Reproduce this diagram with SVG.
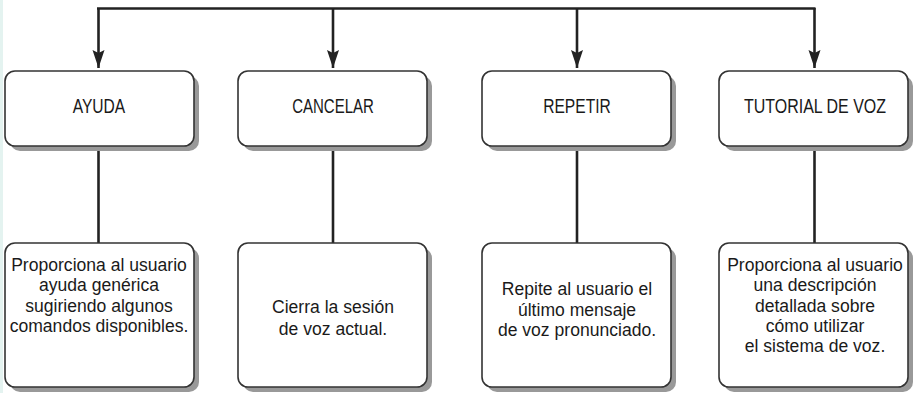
<svg xmlns="http://www.w3.org/2000/svg" width="917" height="393" viewBox="0 0 917 393">
<style>
.box{fill:#fff;stroke:#333;stroke-width:1.6}
.sh{fill:#999;stroke:none}
.lbl{font-family:"Liberation Sans",Arial,sans-serif;font-size:19.5px;fill:#1a1a1a;text-anchor:middle}
.txt{font-family:"Liberation Sans",Arial,sans-serif;font-size:18.5px;fill:#1a1a1a;text-anchor:middle}
.ln{stroke:#222;stroke-width:2.6;fill:none}
</style>
<defs>
<marker id="ah" markerUnits="userSpaceOnUse" viewBox="0 -7 18 14" markerWidth="18" markerHeight="14" refX="18" refY="0" orient="auto">
<path d="M0,-6 L18,0 L0,6 L3,0 Z" fill="#222"/>
</marker>
</defs>
<rect x="0" y="0" width="917" height="393" fill="#fff"/>
<rect x="0" y="0" width="3" height="393" fill="#e4f3f0"/>
<g id="connectors">
<path class="ln" d="M97,8.5 H815.5" stroke-width="3"/>
<path class="ln" d="M98.5,8 V68" marker-end="url(#ah)"/>
<path class="ln" d="M333,8 V68" marker-end="url(#ah)"/>
<path class="ln" d="M577,8 V68" marker-end="url(#ah)"/>
<path class="ln" d="M814.5,8 V68" marker-end="url(#ah)"/>
<path class="ln" d="M98.5,147 V243"/>
<path class="ln" d="M333,147 V243"/>
<path class="ln" d="M577,147 V243"/>
<path class="ln" d="M814.5,147 V243"/>
</g>
<g id="ayuda">
<rect class="sh" x="10" y="76" width="189" height="75" rx="10"/>
<rect class="box" x="5" y="71" width="189" height="75" rx="10"/>
<text class="lbl" transform="translate(99,113) scale(0.8,1)">AYUDA</text>
</g>
<g id="cancelar">
<rect class="sh" x="243" y="76" width="189" height="75" rx="10"/>
<rect class="box" x="238" y="71" width="189" height="75" rx="10"/>
<text class="lbl" transform="translate(333,113) scale(0.77,1)">CANCELAR</text>
</g>
<g id="repetir">
<rect class="sh" x="487" y="76" width="189" height="75" rx="10"/>
<rect class="box" x="482" y="71" width="189" height="75" rx="10"/>
<text class="lbl" transform="translate(577,113) scale(0.8,1)">REPETIR</text>
</g>
<g id="tutorial">
<rect class="sh" x="724" y="76" width="189" height="75" rx="10"/>
<rect class="box" x="719" y="71" width="189" height="75" rx="10"/>
<text class="lbl" transform="translate(815,113) scale(0.82,1)">TUTORIAL DE VOZ</text>
</g>
<g id="ayuda-desc">
<rect class="sh" x="10" y="248" width="189" height="144" rx="10"/>
<rect class="box" x="5" y="243" width="189" height="144" rx="10"/>
<g transform="translate(99,0) scale(0.95,1)">
<text class="txt" x="0" y="271">Proporciona al usuario</text>
<text class="txt" x="0" y="291.5">ayuda genérica</text>
<text class="txt" x="0" y="312">sugiriendo algunos</text>
<text class="txt" x="0" y="332">comandos disponibles.</text>
</g>
</g>
<g id="cancelar-desc">
<rect class="sh" x="243" y="248" width="189" height="144" rx="10"/>
<rect class="box" x="238" y="243" width="189" height="144" rx="10"/>
<g transform="translate(333,0) scale(0.95,1)">
<text class="txt" x="0" y="313">Cierra la sesión</text>
<text class="txt" x="0" y="335">de voz actual.</text>
</g>
</g>
<g id="repetir-desc">
<rect class="sh" x="487" y="248" width="189" height="144" rx="10"/>
<rect class="box" x="482" y="243" width="189" height="144" rx="10"/>
<g transform="translate(577,0) scale(0.95,1)">
<text class="txt" x="0" y="295">Repite al usuario el</text>
<text class="txt" x="0" y="316">último mensaje</text>
<text class="txt" x="0" y="336.5">de voz pronunciado.</text>
</g>
</g>
<g id="tutorial-desc">
<rect class="sh" x="724" y="248" width="189" height="144" rx="10"/>
<rect class="box" x="719" y="243" width="189" height="144" rx="10"/>
<g transform="translate(815,0) scale(0.95,1)">
<text class="txt" x="0" y="271">Proporciona al usuario</text>
<text class="txt" x="0" y="291.5">una descripción</text>
<text class="txt" x="0" y="312">detallada sobre</text>
<text class="txt" x="0" y="332">cómo utilizar</text>
<text class="txt" x="0" y="352.5">el sistema de voz.</text>
</g>
</g>
</svg>
